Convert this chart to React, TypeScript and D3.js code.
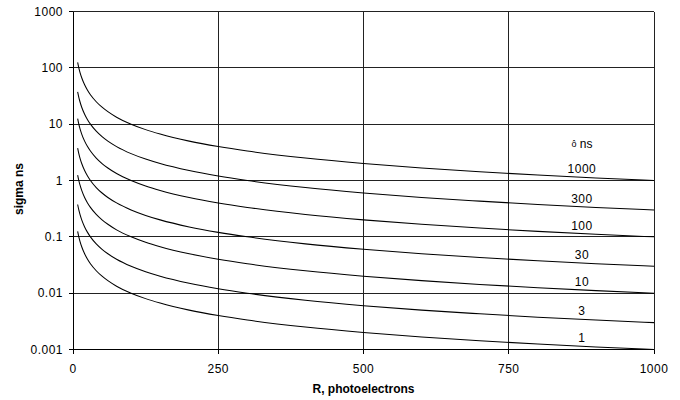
import React from "react";
import * as d3 from "d3";

// R values (photoelectrons) at which the curves were read
const rValues = [8, 10, 12, 15, 20, 25, 30, 40, 50, 60, 75, 100, 125, 150, 200, 250, 300, 400, 500, 600, 700, 800, 900, 1000];

// sigma (ns) for each tau curve
const tauLabels = ["1000", "300", "100", "30", "10", "3", "1"];
const sigma1000 = [125, 100, 83.3, 66.7, 50, 40, 33.3, 25, 20, 16.7, 13.3, 10, 8, 6.67, 5, 4, 3.33, 2.5, 2, 1.67, 1.43, 1.25, 1.11, 1];
const sigma300 = [37.5, 30, 25, 20, 15, 12, 10, 7.5, 6, 5, 4, 3, 2.4, 2, 1.5, 1.2, 1, 0.75, 0.6, 0.5, 0.43, 0.375, 0.333, 0.3];
const sigma100 = [12.5, 10, 8.33, 6.67, 5, 4, 3.33, 2.5, 2, 1.67, 1.33, 1, 0.8, 0.667, 0.5, 0.4, 0.333, 0.25, 0.2, 0.167, 0.143, 0.125, 0.111, 0.1];
const sigma30 = [3.75, 3, 2.5, 2, 1.5, 1.2, 1, 0.75, 0.6, 0.5, 0.4, 0.3, 0.24, 0.2, 0.15, 0.12, 0.1, 0.075, 0.06, 0.05, 0.043, 0.0375, 0.0333, 0.03];
const sigma10 = [1.25, 1, 0.833, 0.667, 0.5, 0.4, 0.333, 0.25, 0.2, 0.167, 0.133, 0.1, 0.08, 0.0667, 0.05, 0.04, 0.0333, 0.025, 0.02, 0.0167, 0.0143, 0.0125, 0.0111, 0.01];
const sigma3 = [0.375, 0.3, 0.25, 0.2, 0.15, 0.12, 0.1, 0.075, 0.06, 0.05, 0.04, 0.03, 0.024, 0.02, 0.015, 0.012, 0.01, 0.0075, 0.006, 0.005, 0.0043, 0.00375, 0.00333, 0.003];
const sigma1 = [0.125, 0.1, 0.0833, 0.0667, 0.05, 0.04, 0.0333, 0.025, 0.02, 0.0167, 0.0133, 0.01, 0.008, 0.00667, 0.005, 0.004, 0.00333, 0.0025, 0.002, 0.00167, 0.00143, 0.00125, 0.00111, 0.001];
const seriesValues = [sigma1000, sigma300, sigma100, sigma30, sigma10, sigma3, sigma1];

// where the curve labels sit (R) and their sigma values there
const labelR = 876;
const labelSigma = [1.14, 0.342, 0.114, 0.0342, 0.0114, 0.00342, 0.00114];

const xTicks = [0, 250, 500, 750, 1000];
const yTicks = [0.001, 0.01, 0.1, 1, 10, 100, 1000];
const yTickLabels = ["0.001", "0.01", "0.1", "1", "10", "100", "1000"];

const legendSymbol = "ô";
const legendUnit = " ns";
const xTitle = "R, photoelectrons";
const yTitle = "sigma ns";

export default function App() {
  const W = 680, H = 400;
  const left = 73, right = 654, top = 11.5, bottom = 349.5;
  const x = d3.scaleLinear().domain([0, 1000]).range([left, right]);
  const y = d3.scaleLog().domain([0.001, 1000]).range([bottom, top]);
  const line = d3
    .line<[number, number]>()
    .x((d) => x(d[0]))
    .y((d) => y(d[1]))
    .curve(d3.curveMonotoneX);

  const font = "'Liberation Sans', Arial, sans-serif";
  const labelY = labelSigma.map((s) => y(s) - 4);

  return (
    <svg
      width={W}
      height={H}
      style={{ position: "absolute", left: 0, top: 0, background: "#fff" }}
      fontFamily={font}
    >
      <rect x={0} y={0} width={W} height={H} fill="#fff" />
      {/* horizontal gridlines */}
      {yTicks.slice(1).map((t) => (
        <line key={"h" + t} x1={left} x2={right} y1={y(t)} y2={y(t)} stroke="#222" strokeWidth={1} shapeRendering="crispEdges" />
      ))}
      {/* vertical gridlines */}
      {xTicks.slice(1).map((t) => (
        <line key={"v" + t} x1={x(t)} x2={x(t)} y1={top} y2={bottom} stroke="#222" strokeWidth={1} shapeRendering="crispEdges" />
      ))}
      {/* axes */}
      <line x1={left} x2={left} y1={top} y2={bottom} stroke="#000" shapeRendering="crispEdges" />
      <line x1={left} x2={right} y1={bottom} y2={bottom} stroke="#000" shapeRendering="crispEdges" />
      {yTicks.map((t, i) => (
        <g key={"yt" + t}>
          <line x1={left - 4} x2={left} y1={y(t)} y2={y(t)} stroke="#000" shapeRendering="crispEdges" />
          <text x={63} y={y(t)} dy="0.36em" textAnchor="end" fontSize={12} letterSpacing={0.5} fill="#000">
            {yTickLabels[i]}
          </text>
        </g>
      ))}
      {xTicks.map((t) => (
        <g key={"xt" + t}>
          <line x1={x(t)} x2={x(t)} y1={bottom} y2={bottom + 4} stroke="#000" shapeRendering="crispEdges" />
          <text x={x(t)} y={373} textAnchor="middle" fontSize={12} letterSpacing={0.5} fill="#000">
            {String(t)}
          </text>
        </g>
      ))}
      {/* curves */}
      {seriesValues.map((vals, i) => (
        <path
          key={"s" + i}
          d={line(rValues.map((r, j) => [r, vals[j]] as [number, number])) || ""}
          fill="none"
          stroke="#000"
          strokeWidth={1.05}
        />
      ))}
      {/* curve labels */}
      <text x={x(labelR)} y={labelY[0] - 25} textAnchor="middle" fontSize={12} fill="#000">
        <tspan fontSize={9} dy={-1}>{legendSymbol}</tspan>
        <tspan dy={1}>{legendUnit}</tspan>
      </text>
      {tauLabels.map((l, i) => (
        <text key={"l" + l} x={x(labelR)} y={labelY[i]} textAnchor="middle" fontSize={12} letterSpacing={0.5} fill="#000">
          {l}
        </text>
      ))}
      {/* axis titles */}
      <text x={x(500)} y={393} textAnchor="middle" fontSize={12} fontWeight="bold" fill="#000">
        {xTitle}
      </text>
      <text transform={`translate(23,189) rotate(-90)`} textAnchor="middle" fontSize={12} fontWeight="bold" fill="#000">
        {yTitle}
      </text>
    </svg>
  );
}
